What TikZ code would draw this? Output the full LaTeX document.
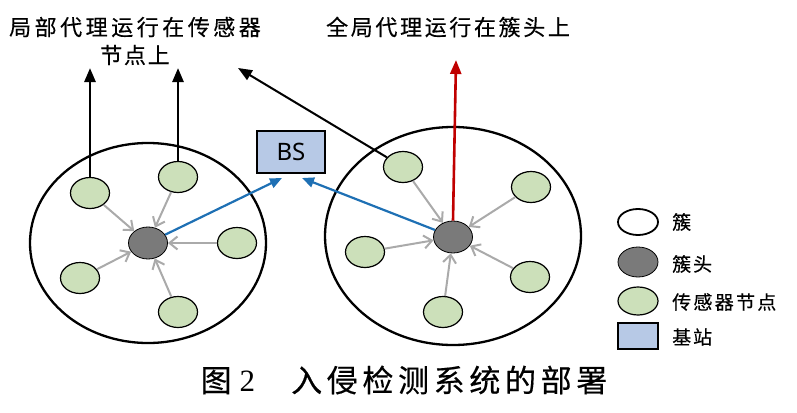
\documentclass[tikz,border=0pt]{standalone}
\usepackage{fontspec}
\usetikzlibrary{shapes.geometric,arrows.meta}
\newfontfamily\cjk{Noto Sans CJK SC}[FakeBold=0.4]
\newfontfamily\bsfont{Noto Sans}
\newfontfamily\capnum{Liberation Serif}
\definecolor{sgreen}{RGB}{204,224,186}
\definecolor{hgray}{RGB}{122,122,122}
\definecolor{bsblue}{RGB}{183,201,230}
\definecolor{linkblue}{RGB}{30,112,180}
\definecolor{agentred}{RGB}{192,0,0}
\definecolor{feedgray}{RGB}{170,170,170}

\begin{document}
\begin{tikzpicture}[x=1pt,y=-1pt,
  cluster/.style={draw, ellipse, line width=2.3pt, inner sep=0pt},
  sensor/.style={draw, ellipse, fill=sgreen, line width=1.2pt, minimum width=39pt, minimum height=31pt, inner sep=0pt},
  head/.style={draw, ellipse, fill=hgray, line width=0.8pt, minimum width=39pt, minimum height=32pt, inner sep=0pt},
  feed/.style={-{Straight Barb[length=8pt,width=13pt]}, feedgray, line width=2pt},
  up/.style={-{Triangle[length=14pt,width=11pt]}, line width=2.6pt},
  link/.style={-{Triangle[length=12pt,width=10pt]}, linkblue, line width=2.2pt},
  label/.style={font=\cjk\fontsize{22}{28}\selectfont, align=center, inner sep=0pt},
  key/.style={font=\cjk\fontsize{19}{22}\selectfont, anchor=west, inner sep=0pt}]
\useasboundingbox (0,0) rectangle (797,412);

\node (lc) [cluster, minimum width=236pt, minimum height=200pt] at (148,243) {};
\node (rc) [cluster, minimum width=256pt, minimum height=218pt] at (453,236) {};

\node (lh) [head] at (148,243) {};
\node (s1) [sensor] at (90,193) {};
\node (s2) [sensor] at (178,177) {};
\node (s3) [sensor] at (237,243) {};
\node (s4) [sensor] at (80,278) {};
\node (s5) [sensor] at (178,312) {};

\node (rh) [head] at (453,237) {};
\node (r1) [sensor] at (403,167) {};
\node (r2) [sensor] at (531,187) {};
\node (r3) [sensor] at (365,252) {};
\node (r4) [sensor] at (530,277) {};
\node (r5) [sensor] at (443,312) {};

\node (bs) [draw, line width=1.6pt, fill=bsblue, minimum width=68pt, minimum height=42pt, font=\bsfont\fontsize{24}{26}\selectfont] at (291,152) {BS};

\node (t1) [label] at (135,41) {\addfontfeatures{LetterSpace=16}局部代理运行在传感器\\\addfontfeatures{LetterSpace=8}节点上};
\node (t2) [label] at (448,27) {\addfontfeatures{LetterSpace=12}全局代理运行在簇头上};

\coordinate (u1) at (90,68);
\coordinate (u2) at (178,68);
\coordinate (u3) at (238,68);
\coordinate (u4) at (456,60);
\coordinate (bl) at (282,178);
\coordinate (br) at (302,178);

\draw[feed] (s1) -- (lh);
\draw[feed] (s2) -- (lh);
\draw[feed] (s3) -- (lh);
\draw[feed] (s4) -- (lh);
\draw[feed] (s5) -- (lh);
\draw[feed] (r1) -- (rh);
\draw[feed] (r2) -- (rh);
\draw[feed] (r3) -- (rh);
\draw[feed] (r4) -- (rh);
\draw[feed] (r5) -- (rh);

\draw[up] (s1.north) -- (u1);
\draw[up] (s2.north) -- (u2);
\draw[up, line width=2pt] (r1) -- (u3);
\draw[up, agentred] (rh.north) -- (u4);
\draw[link] (lh) -- (bl);
\draw[link] (rh) -- (br);

% legend
\node (k1) [draw, ellipse, line width=1.8pt, minimum width=40pt, minimum height=26pt, inner sep=0pt] at (638,222) {};
\node (k2) [draw, ellipse, fill=hgray, line width=0.8pt, minimum width=40pt, minimum height=30pt, inner sep=0pt] at (638,262) {};
\node (k3) [draw, ellipse, fill=sgreen, line width=1.2pt, minimum width=40pt, minimum height=28pt, inner sep=0pt] at (638,301) {};
\node (k4) [draw, rectangle, fill=bsblue, line width=1.6pt, minimum width=40pt, minimum height=26pt, inner sep=0pt] at (638,336) {};
\node (l1) [key] at (672,222) {簇};
\node (l2) [key] at (672,264) {\addfontfeatures{LetterSpace=10}簇头};
\node (l3) [key] at (672,302) {\addfontfeatures{LetterSpace=12}传感器节点};
\node (l4) [key] at (672,337) {\addfontfeatures{LetterSpace=10}基站};

\node (cap) [inner sep=0pt, font=\fontsize{31}{34}\selectfont] at (404,380) {{\cjk 图}\hspace{8pt}{\capnum 2}\hspace{36pt}{\cjk\addfontfeatures{LetterSpace=15}入侵检测系统的部署}};
\end{tikzpicture}
\end{document}
